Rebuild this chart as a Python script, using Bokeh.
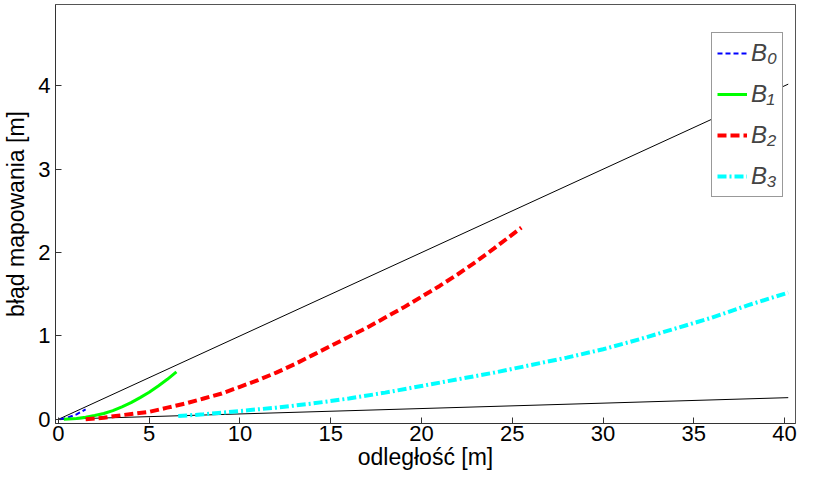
from bokeh.plotting import figure
from bokeh.models import Range1d, FixedTicker, Legend, LegendItem
from bokeh.embed import file_html
from bokeh.resources import INLINE

# Reference lines
upper_x = [0.0, 40.2]
upper_y = [0.0, 4.02]
lower_x = [0.0, 40.2]
lower_y = [0.0, 0.26]

# B0
b0_x = [0.1, 0.5, 1.0, 1.5]
b0_y = [0.0, 0.02, 0.06, 0.12]
# B1
b1_x = [0.3, 1.0, 1.5, 2.0, 2.5, 3.0, 3.5, 4.0, 4.5, 5.0, 5.5, 6.0, 6.5]
b1_y = [0.0, 0.01, 0.025, 0.045, 0.07, 0.105, 0.15, 0.20, 0.26, 0.325, 0.40, 0.48, 0.57]
# B2
b2_x = [1.5, 2.5, 3.5, 5.0, 6.0, 7.0, 8.0, 9.0, 10.0, 11.0, 12.0, 13.0, 14.0,
        15.0, 16.0, 17.0, 18.0, 19.0, 20.0, 21.0, 22.0, 23.0, 24.0, 25.5]
b2_y = [0.0, 0.02, 0.05, 0.09, 0.14, 0.19, 0.25, 0.31, 0.39, 0.47, 0.56, 0.66, 0.77,
        0.88, 0.99, 1.10, 1.22, 1.34, 1.47, 1.60, 1.74, 1.89, 2.05, 2.30]
# B3
b3_x = [6.6, 8.0, 10.0, 12.0, 14.0, 16.0, 18.0, 20.0, 22.0, 24.0, 26.0, 28.0,
        30.0, 32.0, 34.0, 36.0, 38.0, 40.2]
b3_y = [0.04, 0.06, 0.10, 0.14, 0.19, 0.25, 0.32, 0.40, 0.48, 0.56, 0.65, 0.74,
        0.84, 0.96, 1.09, 1.22, 1.37, 1.52]

x_ticks = [0, 5, 10, 15, 20, 25, 30, 35, 40]
y_ticks = [0, 1, 2, 3, 4]
legend_labels = ["B\u2080", "B\u2081", "B\u2082", "B\u2083"]

FONT = "Liberation Sans"

p = figure(width=797, height=472, output_backend="svg", toolbar_location=None,
           x_range=Range1d(-0.16, 40.6), y_range=Range1d(-0.05, 4.975),
           min_border_left=49, min_border_right=2, min_border_top=4, min_border_bottom=40)
p.background_fill_color = "white"
p.border_fill_color = "white"
p.outline_line_color = "#555555"
p.outline_line_width = 1
p.xgrid.visible = False
p.ygrid.visible = False

for ax in (p.xaxis[0], p.yaxis[0]):
    ax.major_tick_in = 6
    ax.major_tick_out = 0
    ax.minor_tick_line_color = None
    ax.axis_line_color = "#333333"
    ax.major_tick_line_color = "#333333"
    ax.major_label_text_font = FONT
    ax.major_label_text_font_size = "22px"
    ax.major_label_text_color = "black"
    ax.axis_label_text_font = FONT
    ax.axis_label_text_font_size = "23px"
    ax.axis_label_text_font_style = "normal"
    ax.axis_label_text_color = "black"

p.xaxis.ticker = FixedTicker(ticks=x_ticks)
p.yaxis.ticker = FixedTicker(ticks=y_ticks)
p.xaxis.major_label_standoff = 2
p.yaxis.major_label_standoff = 5
p.xaxis.axis_label_standoff = 0
p.yaxis.axis_label_standoff = 6
p.xaxis.axis_label = "odległość [m]"
p.yaxis.axis_label = "błąd mapowania [m]"

p.line(upper_x, upper_y, line_color="black", line_width=1)
p.line(lower_x, lower_y, line_color="black", line_width=1)

r0 = p.line(b0_x, b0_y, line_color="#0000ff", line_width=2, line_dash="5 3")
r1 = p.line(b1_x, b1_y, line_color="#00ff00", line_width=3)
r2 = p.line(b2_x, b2_y, line_color="#ff0000", line_width=4, line_dash="9 4")
r3 = p.line(b3_x, b3_y, line_color="#00ffff", line_width=4, line_dash="9 3 2 3")

legend = Legend(items=[LegendItem(label=legend_labels[0], renderers=[r0]),
                       LegendItem(label=legend_labels[1], renderers=[r1]),
                       LegendItem(label=legend_labels[2], renderers=[r2]),
                       LegendItem(label=legend_labels[3], renderers=[r3])],
                location=(656, 226))
legend.label_text_font = FONT
legend.label_text_font_style = "italic"
legend.label_text_font_size = "24px"
legend.label_height = 30
legend.glyph_height = 30
legend.glyph_width = 30
legend.spacing = 11
legend.padding = 5
legend.margin = 0
legend.label_standoff = 4
legend.border_line_color = "#333333"
legend.border_line_width = 1
legend.background_fill_color = "white"
legend.background_fill_alpha = 1
p.add_layout(legend, "center")

open("out.html", "w").write(file_html(p, INLINE))
